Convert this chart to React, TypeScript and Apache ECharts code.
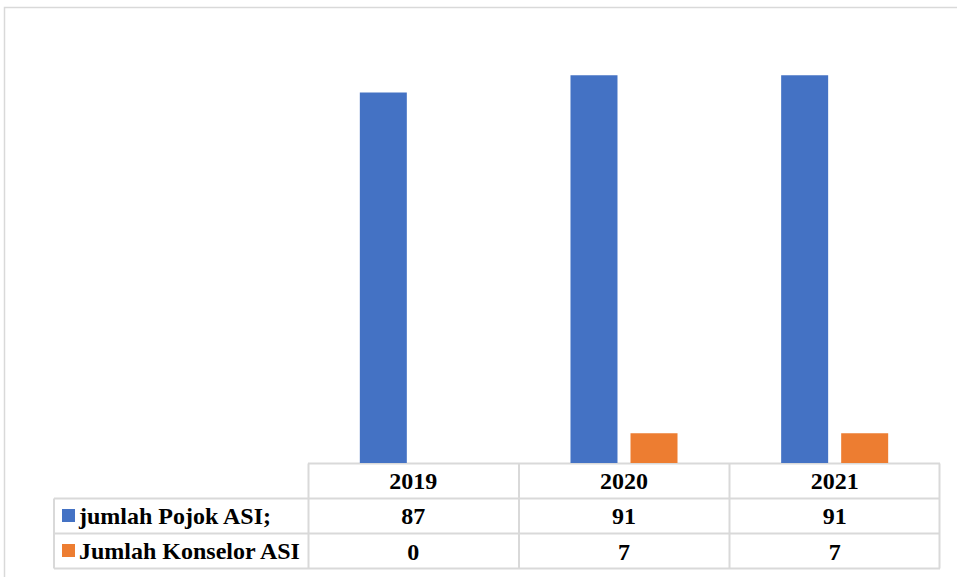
import React, { useEffect, useRef } from "react";
import * as echarts from "echarts";

const years = ["2019", "2020", "2021"];
const pojokASI = [87, 91, 91];
const konselorASI = [0, 7, 7];
const seriesNames = ["jumlah Pojok ASI;", "Jumlah Konselor ASI"];

const FONT = "Liberation Serif";
const LINE = "#d9d9d9";

export default function App() {
  const ref = useRef<HTMLDivElement>(null);
  useEffect(() => {
    if (!ref.current) return;
    const chart = echarts.init(ref.current, undefined, { renderer: "svg" });
    const labelStyle = {
      show: true,
      color: "#000",
      fontFamily: FONT,
      fontWeight: "bold" as const,
      fontSize: 24,
      verticalAlign: "middle" as const,
      margin: 18,
    };
    const mkAxis = (data: (string | number)[], offset: number) => ({
      type: "category" as const,
      data: data.map(String),
      position: "bottom" as const,
      offset,
      axisLine: { show: false },
      axisTick: { show: false },
      splitLine: { show: false },
      axisLabel: { ...labelStyle },
    });
    const hLine = (x1: number, x2: number, y: number) => ({
      type: "line",
      shape: { x1, y1: y, x2, y2: y },
      style: { stroke: LINE, lineWidth: 2 },
      silent: true,
    });
    const vLine = (x: number, y1: number, y2: number) => ({
      type: "line",
      shape: { x1: x, y1, x2: x, y2 },
      style: { stroke: LINE, lineWidth: 2 },
      silent: true,
    });
    chart.setOption({
      animation: false,
      backgroundColor: "#fff",
      grid: { left: 308, right: 17, top: 37, bottom: 114 },
      legend: {
        orient: "vertical",
        left: 62,
        top: 503.5,
        padding: 0,
        itemWidth: 13,
        itemHeight: 13,
        itemGap: 11,
        icon: "rect",
        selectedMode: false,
        textStyle: {
          color: "#000",
          fontFamily: FONT,
          fontWeight: "bold",
          fontSize: 24,
          lineHeight: 24,
          padding: [0, 0, 0, -1],
        },
        data: seriesNames,
      },
      xAxis: [mkAxis(years, 0), mkAxis(pojokASI, 35), mkAxis(konselorASI, 70.5)],
      yAxis: {
        type: "value",
        min: 0,
        max: 100,
        show: false,
        splitLine: { show: false },
      },
      series: [
        {
          name: seriesNames[0],
          type: "bar",
          xAxisIndex: 0,
          data: pojokASI,
          barWidth: 47,
          barGap: "27.7%",
          itemStyle: { color: "#4472c4" },
        },
        {
          name: seriesNames[1],
          type: "bar",
          xAxisIndex: 0,
          data: konselorASI,
          barWidth: 47,
          barGap: "27.7%",
          itemStyle: { color: "#ed7d31" },
        },
      ],
      graphic: [
        {
          type: "rect",
          shape: { x: 4.5, y: 7.5, width: 970, height: 590 },
          style: { fill: "none", stroke: LINE, lineWidth: 1.5 },
          silent: true,
        },
        hLine(308, 940, 463.5),
        hLine(54, 940, 498.5),
        hLine(54, 940, 533.5),
        hLine(54, 940, 568.5),
        vLine(54, 498.5, 568.5),
        vLine(308.5, 463.5, 568.5),
        vLine(519, 463.5, 568.5),
        vLine(729.5, 463.5, 568.5),
        vLine(939.5, 463.5, 568.5),
      ],
    });
    return () => chart.dispose();
  }, []);
  return <div ref={ref} style={{ width: 957, height: 577, position: "absolute", left: 0, top: 0 }} />;
}
